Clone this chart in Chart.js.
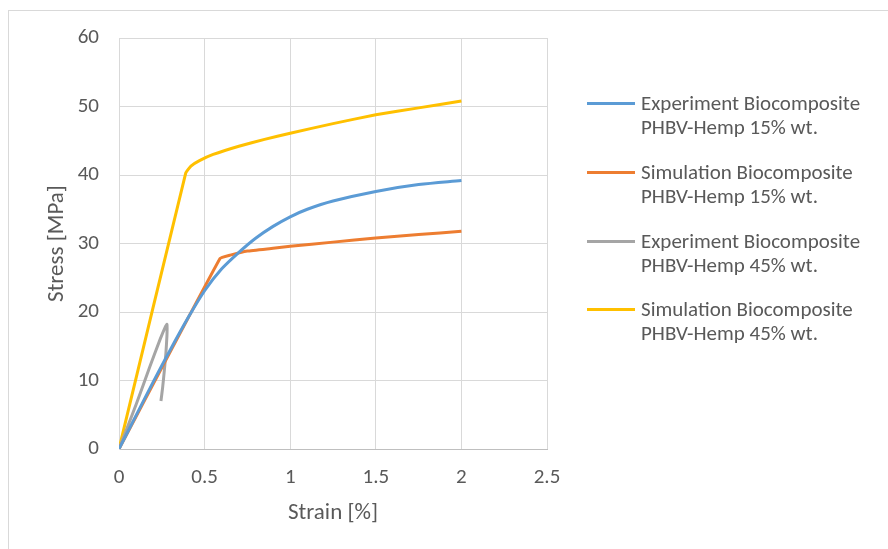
<!DOCTYPE html>
<html>
<head>
<meta charset="utf-8">
<script src="https://cdn.jsdelivr.net/npm/chart.js@4"></script>
<style>
  body { margin: 0; background: #fff; }
  #wrap { position: relative; width: 888px; height: 549px; overflow: hidden; }
  #frame { position: absolute; left: 8px; top: 10px; width: 900px; height: 560px; border: 1px solid #d9d9d9; }
  #chart { position: absolute; left: 0; top: 0; }
  .legend-item { position: absolute; left: 587px; font-family: Carlito, Lato, sans-serif; font-size: 21px; color: #595959; line-height: 24px; }
  .legend-item .swatch { position: absolute; left: 0; top: 11px; width: 48px; height: 3px; }
  .legend-item .text { position: absolute; left: 54px; top: 0; white-space: nowrap; }
</style>
</head>
<body>
<div id="wrap">
  <div id="frame"></div>
  <canvas id="chart" width="888" height="549"></canvas>
  <div id="legend"></div>
</div>
<script>
// series names
const seriesNames = [
  ["Experiment Biocomposite", "PHBV-Hemp 15% wt."],
  ["Simulation Biocomposite", "PHBV-Hemp 15% wt."],
  ["Experiment Biocomposite", "PHBV-Hemp 45% wt."],
  ["Simulation Biocomposite", "PHBV-Hemp 45% wt."]
];
const seriesColors = ["#5B9BD5", "#ED7D31", "#A5A5A5", "#FFC000"];

// Experiment PHBV-Hemp 15%
const exp15Strain = [0, 0.1, 0.2, 0.3, 0.4, 0.5, 0.6, 0.7, 0.8, 0.9, 1.0, 1.1, 1.25, 1.5, 1.75, 2.0];
const exp15Stress = [0, 4.9, 9.8, 14.5, 19.0, 23.1, 26.3, 28.7, 30.8, 32.5, 33.9, 35.0, 36.2, 37.6, 38.6, 39.2];

// Simulation PHBV-Hemp 15%
const sim15Strain = [0, 0.59, 0.65, 0.75, 0.9, 1.0, 1.25, 1.5, 1.75, 2.0];
const sim15Stress = [0, 27.8, 28.3, 28.9, 29.3, 29.6, 30.2, 30.8, 31.3, 31.8];

// Experiment PHBV-Hemp 45%
const exp45Strain = [0, 0.1, 0.18, 0.24, 0.27, 0.28, 0.28, 0.274, 0.265, 0.255, 0.245];
const exp45Stress = [0, 6.5, 12.0, 16.0, 17.8, 18.2, 16.5, 14.0, 11.5, 9.0, 7.0];

// Simulation PHBV-Hemp 45%
const sim45Strain = [0, 0.39, 0.42, 0.47, 0.55, 0.7, 0.85, 1.0, 1.25, 1.5, 1.75, 2.0];
const sim45Stress = [0, 40.3, 41.3, 42.1, 43.0, 44.2, 45.2, 46.1, 47.5, 48.8, 49.8, 50.8];

const xTicks = [0, 0.5, 1, 1.5, 2, 2.5];
const yTicks = [0, 10, 20, 30, 40, 50, 60];

function toPoints(xs, ys) {
  return xs.map((x, i) => ({ x: x, y: ys[i] }));
}

const allSeries = [
  toPoints(exp15Strain, exp15Stress),
  toPoints(sim15Strain, sim15Stress),
  toPoints(exp45Strain, exp45Stress),
  toPoints(sim45Strain, sim45Stress)
];

const fontFamily = "Carlito, Lato, sans-serif";
const textColor = "#595959";

const datasets = allSeries.map((pts, i) => ({
  label: seriesNames[i].join(" "),
  data: pts,
  borderColor: seriesColors[i],
  backgroundColor: seriesColors[i],
  borderWidth: 3,
  showLine: true,
  pointRadius: 0,
  tension: i === 0 ? 0.3 : 0.1
}));

new Chart(document.getElementById("chart"), {
  type: "scatter",
  data: { datasets: datasets },
  options: {
    responsive: false,
    animation: false,
    layout: { padding: { left: 0, right: 341, top: 38, bottom: 0 } },
    plugins: { legend: { display: false }, tooltip: { enabled: false } },
    scales: {
      x: {
        type: "linear",
        min: 0,
        max: 2.5,
        afterBuildTicks: (scale) => { scale.ticks = xTicks.map((v) => ({ value: v })); },
        afterFit: (scale) => { scale.height = 100; },
        ticks: { color: textColor, font: { family: fontFamily, size: 21 }, padding: 16, callback: (v) => String(v) },
        grid: { color: "#d9d9d9", drawTicks: false },
        border: { color: "#bfbfbf" },
        title: { display: true, text: "Strain [%]", color: textColor, font: { family: fontFamily, size: 23 }, padding: { top: 0, bottom: 22 } }
      },
      y: {
        type: "linear",
        min: 0,
        max: 60,
        afterBuildTicks: (scale) => { scale.ticks = yTicks.map((v) => ({ value: v })); },
        afterFit: (scale) => { scale.width = 119; },
        ticks: { color: textColor, font: { family: fontFamily, size: 21 }, padding: 20 },
        grid: { color: "#d9d9d9", drawTicks: false },
        border: { color: "#d9d9d9" },
        title: { display: true, text: "Stress [MPa]", color: textColor, font: { family: fontFamily, size: 23 }, padding: { top: 43, bottom: 0 } }
      }
    }
  }
});

// legend on the right
const legendTops = [91, 160, 229, 297];
const legend = document.getElementById("legend");
seriesNames.forEach((lines, i) => {
  const item = document.createElement("div");
  item.className = "legend-item";
  item.style.top = legendTops[i] + "px";
  const sw = document.createElement("div");
  sw.className = "swatch";
  sw.style.background = seriesColors[i];
  const txt = document.createElement("div");
  txt.className = "text";
  txt.innerHTML = lines.join("<br>");
  item.appendChild(sw);
  item.appendChild(txt);
  legend.appendChild(item);
});
</script>
</body>
</html>
